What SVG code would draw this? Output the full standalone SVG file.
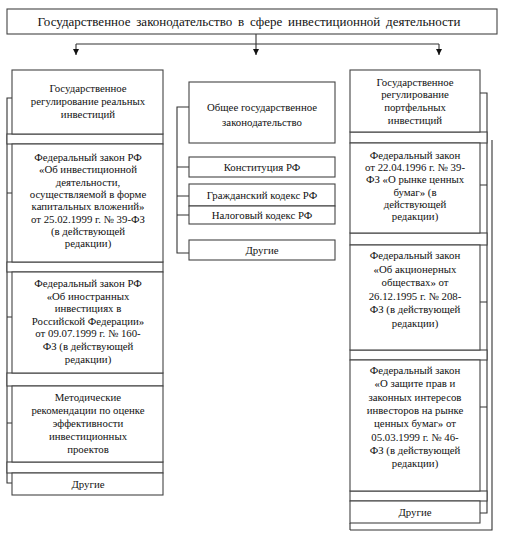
<svg xmlns="http://www.w3.org/2000/svg" width="505" height="538" viewBox="0 0 505 538" font-family="'Liberation Serif', 'Times New Roman', serif">
<defs>
<marker id="arr" viewBox="0 0 10 10" refX="10" refY="5" markerWidth="6" markerHeight="6" markerUnits="userSpaceOnUse" orient="auto">
<path d="M0,0 L10,5 L0,10 z" fill="#111"/>
</marker>
<style>
rect{fill:#fff;stroke:#444;stroke-width:1.1}
.c{fill:none;stroke:#333;stroke-width:1.1}
text{font-family:'Liberation Serif','Times New Roman',serif;font-size:10.8px;fill:#111;text-anchor:middle}
.t{font-size:13px;word-spacing:2.5px}
</style>
</defs>
<rect width="505" height="538" style="fill:#fff;stroke:none"/>

<g id="connectors">
<path class="c" d="M256,34 V44 M76,44 H439"/>
<path class="c" d="M76,44 V55" marker-end="url(#arr)"/>
<path class="c" d="M256,44 V55" marker-end="url(#arr)"/>
<path class="c" d="M439,44 V55" marker-end="url(#arr)"/>
<path class="c" d="M12,98 H7 V483 H12 M7,193 H12 M7,317 H12 M7,423 H12"/>
<path class="c" d="M189,107 H177 V253 H189 M177,167 H189 M177,196 H189 M177,215 H189"/>
<path class="c" d="M480,93 H487 V513 H480 M487,185 H480 M487,302 H480 M487,407 H480"/>
<path class="c" d="M350,530 H492 V140"/>
</g>

<g id="title">
<rect x="7" y="9" width="490" height="25"/>
<text class="t" x="249" y="26">Государственное законодательство в сфере инвестиционной деятельности</text>
</g>

<g id="left-gaps">
<rect x="7" y="134" width="156" height="10"/>
<rect x="7" y="262" width="156" height="10"/>
<rect x="7" y="373" width="156" height="13"/>
<rect x="7" y="462" width="156" height="11"/>
</g>

<g id="left-head">
<rect x="12" y="70" width="151" height="64"/>
<text x="88" y="92">Государственное</text>
<text x="88" y="105">регулирование реальных</text>
<text x="88" y="118">инвестиций</text>
</g>
<g id="left-1">
<rect x="12" y="144" width="151" height="118"/>
<text x="88" y="161">Федеральный закон РФ</text>
<text x="88" y="173.3">«Об инвестиционной</text>
<text x="88" y="185.6">деятельности,</text>
<text x="88" y="197.9">осуществляемой в форме</text>
<text x="88" y="210.2">капитальных вложений»</text>
<text x="88" y="222.5">от 25.02.1999 г. № 39-ФЗ</text>
<text x="88" y="234.8">(в действующей</text>
<text x="88" y="247.1">редакции)</text>
</g>
<g id="left-2">
<rect x="12" y="272" width="151" height="101"/>
<text x="88" y="287">Федеральный закон РФ</text>
<text x="88" y="299.6">«Об иностранных</text>
<text x="88" y="312.2">инвестициях в</text>
<text x="88" y="324.8">Российской Федерации»</text>
<text x="88" y="337.4">от 09.07.1999 г. № 160-</text>
<text x="88" y="350">ФЗ (в действующей</text>
<text x="88" y="362.6">редакции)</text>
</g>
<g id="left-3">
<rect x="12" y="386" width="151" height="76"/>
<text x="88" y="401">Методические</text>
<text x="88" y="414">рекомендации по оценке</text>
<text x="88" y="427">эффективности</text>
<text x="88" y="440">инвестиционных</text>
<text x="88" y="453">проектов</text>
</g>
<g id="left-4">
<rect x="12" y="473" width="151" height="22"/>
<text x="88" y="488">Другие</text>
</g>

<g id="mid-head">
<rect x="189" y="82" width="146" height="61"/>
<text x="262" y="111">Общее государственное</text>
<text x="262" y="126">законодательство</text>
</g>
<g id="mid-1">
<rect x="189" y="157" width="146" height="20"/>
<text x="262" y="171">Конституция РФ</text>
</g>
<g id="mid-2">
<rect x="189" y="184" width="146" height="22"/>
<text x="262" y="199">Гражданский кодекс РФ</text>
</g>
<g id="mid-3">
<rect x="189" y="206" width="146" height="18"/>
<text x="262" y="219">Налоговый кодекс РФ</text>
</g>
<g id="mid-4">
<rect x="189" y="240" width="146" height="20"/>
<text x="262" y="254">Другие</text>
</g>

<g id="right-gaps">
<rect x="350" y="132" width="137" height="11"/>
<rect x="350" y="233" width="137" height="12"/>
<rect x="350" y="350" width="137" height="10"/>
<rect x="350" y="491" width="137" height="10"/>
</g>
<g id="right-head">
<rect x="350" y="70" width="130" height="62"/>
<text x="415" y="85.5">Государственное</text>
<text x="415" y="98">регулирование</text>
<text x="415" y="111">портфельных</text>
<text x="415" y="124">инвестиций</text>
</g>
<g id="right-1">
<rect x="350" y="143" width="130" height="90"/>
<text x="415" y="159">Федеральный закон</text>
<text x="415" y="171.2">от 22.04.1996 г. № 39-</text>
<text x="415" y="183.4">ФЗ «О рынке ценных</text>
<text x="415" y="195.6">бумаг» (в</text>
<text x="415" y="207.8">действующей</text>
<text x="415" y="220">редакции)</text>
</g>
<g id="right-2">
<rect x="350" y="245" width="130" height="105"/>
<text x="415" y="259">Федеральный закон</text>
<text x="415" y="272.5">«Об акционерных</text>
<text x="415" y="286">обществах» от</text>
<text x="415" y="299.5">26.12.1995 г. № 208-</text>
<text x="415" y="313">ФЗ (в действующей</text>
<text x="415" y="326.5">редакции)</text>
</g>
<g id="right-3">
<rect x="350" y="360" width="130" height="131"/>
<text x="415" y="374">Федеральный закон</text>
<text x="415" y="387.3">«О защите прав и</text>
<text x="415" y="400.6">законных интересов</text>
<text x="415" y="413.9">инвесторов на рынке</text>
<text x="415" y="427.2">ценных бумаг» от</text>
<text x="415" y="440.5">05.03.1999 г. № 46-</text>
<text x="415" y="453.8">ФЗ (в действующей</text>
<text x="415" y="467.1">редакции)</text>
</g>
<g id="right-4">
<rect x="350" y="501" width="130" height="22"/>
<text x="415" y="516">Другие</text>
</g>
<path class="c" d="M350,523 V530"/>
</svg>
